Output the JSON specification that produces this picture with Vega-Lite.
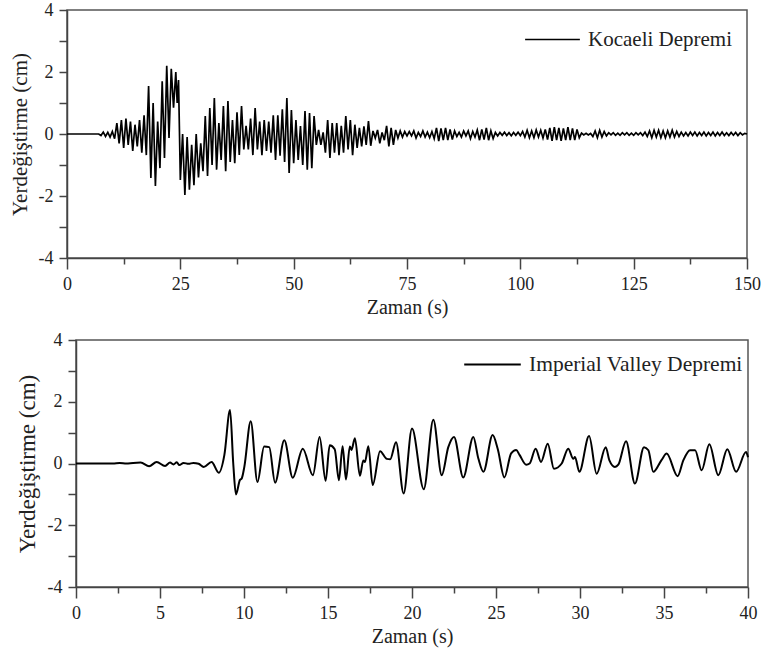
{
  "$schema": "https://vega.github.io/schema/vega-lite/v6.json",
  "background": "white",
  "padding": {"left": 1, "top": 0, "right": 5, "bottom": 5},
  "config": {
    "font": "Liberation Serif",
    "view": {"stroke": "#555", "strokeWidth": 1.5},
    "style": {"guide-label": {"font": "Liberation Serif"}, "guide-title": {"font": "Liberation Serif"}},
    "axis": {
      "labelFont": "Liberation Serif", "titleFont": "Liberation Serif",
      "labelFontSize": 18, "titleFontSize": 20, "titleFontWeight": "normal",
      "labelColor": "#222", "titleColor": "#222",
      "domainColor": "#444", "domainWidth": 1.5, "tickColor": "#444", "tickWidth": 1.5,
      "grid": false, "labelOverlap": false, "labelFlush": false
    },
    "legend": {"labelFont": "Liberation Serif", "labelFontSize": 21, "labelColor": "#222", "labelLimit": 400}
  },
  "spacing": 12,
  "resolve": {"scale": {"color": "independent"}, "legend": {"color": "independent"}},
  "datasets": {
    "kocaeli": [
      {"t":0,"y":0},{"t":7,"y":0},{"t":7.5,"y":-0.05},{"t":8,"y":0.06},{"t":8.5,"y":-0.08},{"t":9,"y":0.05},{"t":9.5,"y":-0.1},{"t":10,"y":0.08},{"t":10.5,"y":-0.15},
      {"t":11,"y":0.35},{"t":11.5,"y":-0.3},{"t":12,"y":0.45},{"t":12.5,"y":-0.45},{"t":13,"y":0.5},{"t":13.5,"y":-0.35},{"t":14,"y":0.4},{"t":14.5,"y":-0.55},{"t":15,"y":0.3},{"t":15.5,"y":-0.4},
      {"t":16,"y":0.45},{"t":16.5,"y":-0.6},{"t":17,"y":0.6},{"t":17.5,"y":-0.68},{"t":18,"y":1.55},{"t":18.5,"y":-1.42},{"t":19,"y":1.0},{"t":19.5,"y":-1.68},{"t":20,"y":0.4},{"t":20.5,"y":-1.1},
      {"t":21,"y":1.7},{"t":21.5,"y":-0.77},{"t":22,"y":2.2},{"t":22.5,"y":-0.13},{"t":23,"y":2.1},{"t":23.5,"y":0.85},{"t":24,"y":2.0},{"t":24.3,"y":1.0},{"t":24.6,"y":1.74},{"t":25,"y":-1.48},
      {"t":25.5,"y":0.0},{"t":26,"y":-1.97},{"t":26.5,"y":-0.1},{"t":27,"y":-1.8},{"t":27.5,"y":-0.35},{"t":28,"y":-1.65},{"t":28.5,"y":0.0},{"t":29,"y":-1.4},{"t":29.5,"y":-0.3},{"t":30,"y":-1.2},
      {"t":30.5,"y":0.58},{"t":31,"y":-1.35},{"t":31.5,"y":0.84},{"t":32,"y":-1.0},{"t":32.5,"y":1.16},{"t":33,"y":-1.15},{"t":33.5,"y":0.35},{"t":34,"y":-0.84},{"t":34.5,"y":0.9},{"t":35,"y":-1.2},
      {"t":35.5,"y":1.06},{"t":36,"y":-0.9},{"t":36.5,"y":0.45},{"t":37,"y":-0.94},{"t":37.5,"y":0.7},{"t":38,"y":-0.68},{"t":38.5,"y":0.9},{"t":39,"y":-0.5},{"t":39.5,"y":0.26},{"t":40,"y":-0.5},
      {"t":40.5,"y":0.5},{"t":41,"y":-0.68},{"t":41.5,"y":0.84},{"t":42,"y":-0.5},{"t":42.5,"y":0.4},{"t":43,"y":-0.68},{"t":43.5,"y":0.45},{"t":44,"y":-0.55},{"t":44.5,"y":0.4},{"t":45,"y":-0.6},
      {"t":45.5,"y":0.6},{"t":46,"y":-0.84},{"t":46.5,"y":0.6},{"t":47,"y":-0.7},{"t":47.5,"y":0.8},{"t":48,"y":-0.9},{"t":48.5,"y":1.16},{"t":49,"y":-1.26},{"t":49.5,"y":0.77},{"t":50,"y":-0.94},
      {"t":50.5,"y":0.45},{"t":51,"y":-0.84},{"t":51.5,"y":0.26},{"t":52,"y":-1.0},{"t":52.5,"y":0.74},{"t":53,"y":-1.15},{"t":53.5,"y":0.68},{"t":54,"y":-1.1},{"t":54.5,"y":0.58},{"t":55,"y":-0.35},
      {"t":55.5,"y":0.13},{"t":56,"y":-0.35},{"t":56.5,"y":0.05},{"t":57,"y":-0.6},{"t":57.5,"y":0.45},{"t":58,"y":-0.77},{"t":58.5,"y":0.35},{"t":59,"y":-0.6},{"t":59.5,"y":0.35},{"t":60,"y":-0.68},
      {"t":60.5,"y":0.26},{"t":61,"y":-0.6},{"t":61.5,"y":0.58},{"t":62,"y":-0.5},{"t":62.5,"y":0.45},{"t":63,"y":-0.68},{"t":63.5,"y":0.3},{"t":64,"y":-0.45},{"t":64.5,"y":0.2},{"t":65,"y":-0.4},
      {"t":65.5,"y":0.25},{"t":66,"y":-0.35},{"t":66.5,"y":0.42},{"t":67,"y":-0.38},{"t":67.5,"y":0.1},{"t":68,"y":-0.13},{"t":68.5,"y":0.13},{"t":69,"y":-0.3},{"t":69.5,"y":0.05},{"t":70,"y":-0.2},
      {"t":70.5,"y":0.26},{"t":71,"y":-0.4},{"t":71.5,"y":0.2},{"t":72,"y":-0.35},{"t":72.5,"y":0.13},{"t":73,"y":-0.13},{"t":73.5,"y":0.1},{"t":74,"y":-0.1},{"t":74.5,"y":0.08},{"t":75,"y":-0.06},
      {"t":75.5,"y":0.08},{"t":76,"y":-0.06},{"t":76.5,"y":0.1},{"t":77,"y":-0.13},{"t":77.5,"y":0.05},{"t":78,"y":-0.08},{"t":78.5,"y":0.1},{"t":79,"y":-0.1},{"t":79.5,"y":0.06},{"t":80,"y":-0.12},
      {"t":80.5,"y":0.08},{"t":81,"y":-0.15},{"t":81.5,"y":0.2},{"t":82,"y":-0.23},{"t":82.5,"y":0.18},{"t":83,"y":-0.2},{"t":83.5,"y":0.2},{"t":84,"y":-0.2},{"t":84.5,"y":0.15},{"t":85,"y":-0.18},
      {"t":85.5,"y":0.1},{"t":86,"y":-0.08},{"t":86.5,"y":0.05},{"t":87,"y":-0.1},{"t":87.5,"y":0.1},{"t":88,"y":-0.06},{"t":88.5,"y":0.1},{"t":89,"y":-0.15},{"t":89.5,"y":0.08},{"t":90,"y":-0.1},
      {"t":90.5,"y":0.13},{"t":91,"y":-0.2},{"t":91.5,"y":0.15},{"t":92,"y":-0.18},{"t":92.5,"y":0.2},{"t":93,"y":-0.2},{"t":93.5,"y":0.1},{"t":94,"y":-0.15},{"t":94.5,"y":0.05},{"t":95,"y":-0.06},
      {"t":95.5,"y":0.05},{"t":96,"y":-0.04},{"t":96.5,"y":0.06},{"t":97,"y":-0.05},{"t":97.5,"y":0.04},{"t":98,"y":-0.06},{"t":98.5,"y":0.05},{"t":99,"y":-0.04},{"t":99.5,"y":0.06},{"t":100,"y":-0.05},
      {"t":100.5,"y":0.08},{"t":101,"y":-0.1},{"t":101.5,"y":0.12},{"t":102,"y":-0.12},{"t":102.5,"y":0.1},{"t":103,"y":-0.12},{"t":103.5,"y":0.13},{"t":104,"y":-0.1},{"t":104.5,"y":0.12},{"t":105,"y":-0.13},
      {"t":105.5,"y":0.15},{"t":106,"y":-0.18},{"t":106.5,"y":0.2},{"t":107,"y":-0.22},{"t":107.5,"y":0.22},{"t":108,"y":-0.2},{"t":108.5,"y":0.2},{"t":109,"y":-0.22},{"t":109.5,"y":0.18},{"t":110,"y":-0.2},
      {"t":110.5,"y":0.22},{"t":111,"y":-0.2},{"t":111.5,"y":0.18},{"t":112,"y":-0.2},{"t":112.5,"y":0.15},{"t":113,"y":-0.12},{"t":113.5,"y":0.03},{"t":114,"y":-0.03},{"t":114.5,"y":0.02},{"t":115,"y":-0.03},
      {"t":115.5,"y":0.02},{"t":116,"y":-0.08},{"t":116.5,"y":0.1},{"t":117,"y":-0.12},{"t":117.5,"y":0.12},{"t":118,"y":-0.1},{"t":118.5,"y":0.08},{"t":119,"y":-0.06},{"t":119.5,"y":0.04},{"t":120,"y":-0.03},
      {"t":120.5,"y":0.04},{"t":121,"y":-0.04},{"t":121.5,"y":0.03},{"t":122,"y":-0.04},{"t":122.5,"y":0.04},{"t":123,"y":-0.03},{"t":123.5,"y":0.04},{"t":124,"y":-0.04},{"t":124.5,"y":0.03},{"t":125,"y":-0.04},
      {"t":125.5,"y":0.04},{"t":126,"y":-0.03},{"t":126.5,"y":0.04},{"t":127,"y":-0.05},{"t":127.5,"y":0.06},{"t":128,"y":-0.08},{"t":128.5,"y":0.1},{"t":129,"y":-0.12},{"t":129.5,"y":0.12},{"t":130,"y":-0.1},
      {"t":130.5,"y":0.12},{"t":131,"y":-0.12},{"t":131.5,"y":0.1},{"t":132,"y":-0.12},{"t":132.5,"y":0.1},{"t":133,"y":-0.1},{"t":133.5,"y":0.12},{"t":134,"y":-0.1},{"t":134.5,"y":0.08},{"t":135,"y":-0.08},
      {"t":135.5,"y":0.06},{"t":136,"y":-0.06},{"t":136.5,"y":0.05},{"t":137,"y":-0.06},{"t":137.5,"y":0.06},{"t":138,"y":-0.05},{"t":138.5,"y":0.06},{"t":139,"y":-0.06},{"t":139.5,"y":0.05},{"t":140,"y":-0.05},
      {"t":140.5,"y":0.06},{"t":141,"y":-0.06},{"t":141.5,"y":0.05},{"t":142,"y":-0.05},{"t":142.5,"y":0.06},{"t":143,"y":-0.06},{"t":143.5,"y":0.05},{"t":144,"y":-0.05},{"t":144.5,"y":0.06},{"t":145,"y":-0.05},
      {"t":145.5,"y":0.04},{"t":146,"y":-0.05},{"t":146.5,"y":0.05},{"t":147,"y":-0.04},{"t":147.5,"y":0.05},{"t":148,"y":-0.05},{"t":148.5,"y":0.04},{"t":149,"y":-0.03},{"t":149.5,"y":0.02},{"t":150,"y":0}
    ],
    "imperial": [
      {"t":0,"y":0},{"t":2.2,"y":0},{"t":2.6,"y":0.02},{"t":3.0,"y":0.0},{"t":3.4,"y":0.02},{"t":3.85,"y":0.03},{"t":4.35,"y":-0.09},{"t":4.8,"y":0.05},{"t":5.3,"y":-0.08},
      {"t":5.6,"y":0.03},{"t":5.8,"y":-0.03},{"t":6.0,"y":0.04},{"t":6.15,"y":-0.05},{"t":6.4,"y":0.02},{"t":6.7,"y":-0.01},{"t":6.98,"y":0.02},{"t":7.3,"y":-0.01},{"t":7.6,"y":-0.11},
      {"t":8.07,"y":0.05},{"t":8.5,"y":-0.3},{"t":8.83,"y":0.27},{"t":9.17,"y":1.73},{"t":9.36,"y":0.0},{"t":9.52,"y":-1.0},{"t":9.76,"y":-0.53},{"t":9.86,"y":-0.49},{"t":10.02,"y":-0.11},
      {"t":10.4,"y":1.37},{"t":10.8,"y":-0.6},{"t":11.2,"y":0.55},{"t":11.5,"y":0.53},{"t":11.85,"y":-0.62},{"t":12.4,"y":0.75},{"t":12.9,"y":-0.46},{"t":13.5,"y":0.48},{"t":14.1,"y":-0.38},
      {"t":14.5,"y":0.86},{"t":14.86,"y":-0.56},{"t":15.1,"y":0.59},{"t":15.4,"y":0.46},{"t":15.65,"y":-0.54},{"t":15.87,"y":0.56},{"t":16.07,"y":-0.52},{"t":16.3,"y":0.55},{"t":16.4,"y":0.44},
      {"t":16.6,"y":0.82},{"t":16.9,"y":-0.4},{"t":17.1,"y":0.1},{"t":17.2,"y":0.05},{"t":17.4,"y":0.56},{"t":17.66,"y":-0.7},{"t":18.1,"y":0.4},{"t":18.5,"y":0.15},{"t":18.7,"y":0.14},
      {"t":19.05,"y":0.69},{"t":19.5,"y":-0.97},{"t":20.0,"y":1.13},{"t":20.7,"y":-0.83},{"t":21.27,"y":1.42},{"t":21.77,"y":-0.38},{"t":22.16,"y":0.53},{"t":22.5,"y":0.86},{"t":23.05,"y":-0.45},
      {"t":23.65,"y":0.86},{"t":23.95,"y":0.16},{"t":24.25,"y":-0.27},{"t":24.8,"y":0.92},{"t":25.1,"y":0.48},{"t":25.5,"y":-0.45},{"t":25.9,"y":0.33},{"t":26.2,"y":0.44},{"t":26.4,"y":0.28},
      {"t":26.8,"y":-0.04},{"t":27.0,"y":0.0},{"t":27.36,"y":0.48},{"t":27.68,"y":0.05},{"t":28.08,"y":0.64},{"t":28.45,"y":-0.17},{"t":28.91,"y":0.0},{"t":29.3,"y":0.48},{"t":29.6,"y":0.15},
      {"t":29.7,"y":0.21},{"t":29.96,"y":-0.27},{"t":30.54,"y":0.89},{"t":30.99,"y":-0.33},{"t":31.53,"y":0.53},{"t":31.75,"y":0.1},{"t":32.08,"y":-0.11},{"t":32.28,"y":-0.04},{"t":32.74,"y":0.72},
      {"t":33.27,"y":-0.65},{"t":33.81,"y":0.53},{"t":34.07,"y":0.43},{"t":34.36,"y":-0.27},{"t":34.86,"y":0.12},{"t":35.16,"y":0.32},{"t":35.81,"y":-0.41},{"t":36.15,"y":0.1},{"t":36.55,"y":0.43},
      {"t":36.85,"y":0.43},{"t":37.24,"y":-0.22},{"t":37.7,"y":0.62},{"t":38.23,"y":-0.38},{"t":38.77,"y":0.46},{"t":39.29,"y":-0.27},{"t":39.88,"y":0.37},{"t":40.0,"y":0.2}
    ]
  },
  "vconcat": [
    {
      "spacing": 0,
      "resolve": {"scale": {"color": "independent"}, "legend": {"color": "independent"}},
      "hconcat": [
        {"width": 1, "height": 1, "view": {"stroke": null}, "data": {"values": [{}]}, "mark": {"type": "point", "opacity": 0}, "encoding": {}},
        {
          "width": 680, "height": 248,
          "data": {"name": "kocaeli"},
          "mark": {"type": "line", "strokeWidth": 1.7},
          "encoding": {
            "x": {"field": "t", "type": "quantitative",
              "scale": {"domain": [0, 150], "nice": false, "zero": false},
              "axis": {"title": "Zaman (s)", "labelFont": "Liberation Serif", "titleFont": "Liberation Serif",
                "values": [0, 12.5, 25, 37.5, 50, 62.5, 75, 87.5, 100, 112.5, 125, 137.5, 150],
                "labelExpr": "datum.value % 25 === 0 ? datum.label : ''",
                "tickSize": {"condition": {"test": "datum.value % 25 === 0", "value": 11}, "value": 6},
                "labelPadding": 6, "titlePadding": 4}},
            "y": {"field": "y", "type": "quantitative",
              "scale": {"domain": [-4, 4], "nice": false},
              "axis": {"title": "Yerdeğiştirme (cm)", "labelFont": "Liberation Serif", "titleFont": "Liberation Serif", "titleFontSize": 21,
                "values": [-4, -3, -2, -1, 0, 1, 2, 3, 4],
                "labelExpr": "datum.value % 2 === 0 ? '' + datum.value : ''",
                "tickSize": 8, "labelPadding": 6, "titlePadding": 8}},
            "color": {"datum": "Kocaeli Depremi", "scale": {"range": ["black"]},
              "legend": {"title": null, "orient": "none", "legendX": 457, "legendY": 1, "symbolType": "stroke", "symbolSize": 3000, "symbolStrokeWidth": 1.5, "padding": 0, "labelOffset": 7, "labelFont": "Liberation Serif", "labelLimit": 400}}
          }
        }
      ]
    },
    {
      "spacing": 7,
      "resolve": {"scale": {"color": "independent"}, "legend": {"color": "independent"}},
      "hconcat": [
        {"width": 1, "height": 1, "view": {"stroke": null}, "data": {"values": [{}]}, "mark": {"type": "point", "opacity": 0}, "encoding": {}},
        {
          "width": 672, "height": 247,
          "data": {"name": "imperial"},
          "mark": {"type": "line", "strokeWidth": 2, "interpolate": "monotone"},
          "encoding": {
            "x": {"field": "t", "type": "quantitative",
              "scale": {"domain": [0, 40], "nice": false, "zero": false},
              "axis": {"title": "Zaman (s)", "labelFont": "Liberation Serif", "titleFont": "Liberation Serif",
                "values": [0, 2.5, 5, 7.5, 10, 12.5, 15, 17.5, 20, 22.5, 25, 27.5, 30, 32.5, 35, 37.5, 40],
                "labelExpr": "datum.value % 5 === 0 ? datum.label : ''",
                "tickSize": {"condition": {"test": "datum.value % 5 === 0", "value": 11}, "value": 6},
                "labelPadding": 6, "titlePadding": 4}},
            "y": {"field": "y", "type": "quantitative",
              "scale": {"domain": [-4, 4], "nice": false},
              "axis": {"title": "Yerdeğiştirme (cm)", "labelFont": "Liberation Serif", "titleFont": "Liberation Serif", "titleFontSize": 23,
                "values": [-4, -3, -2, -1, 0, 1, 2, 3, 4],
                "labelExpr": "datum.value % 2 === 0 ? '' + datum.value : ''",
                "tickSize": 8, "labelPadding": 6, "titlePadding": 8}},
            "color": {"datum": "Imperial Valley Depremi", "scale": {"range": ["black"]},
              "legend": {"title": null, "orient": "none", "legendX": 387, "legendY": -5, "symbolType": "stroke", "symbolSize": 3200, "symbolStrokeWidth": 2, "padding": 0, "labelOffset": 7, "labelFont": "Liberation Serif", "labelLimit": 400, "labelFontSize": 21.5}}
          }
        }
      ]
    }
  ]
}
